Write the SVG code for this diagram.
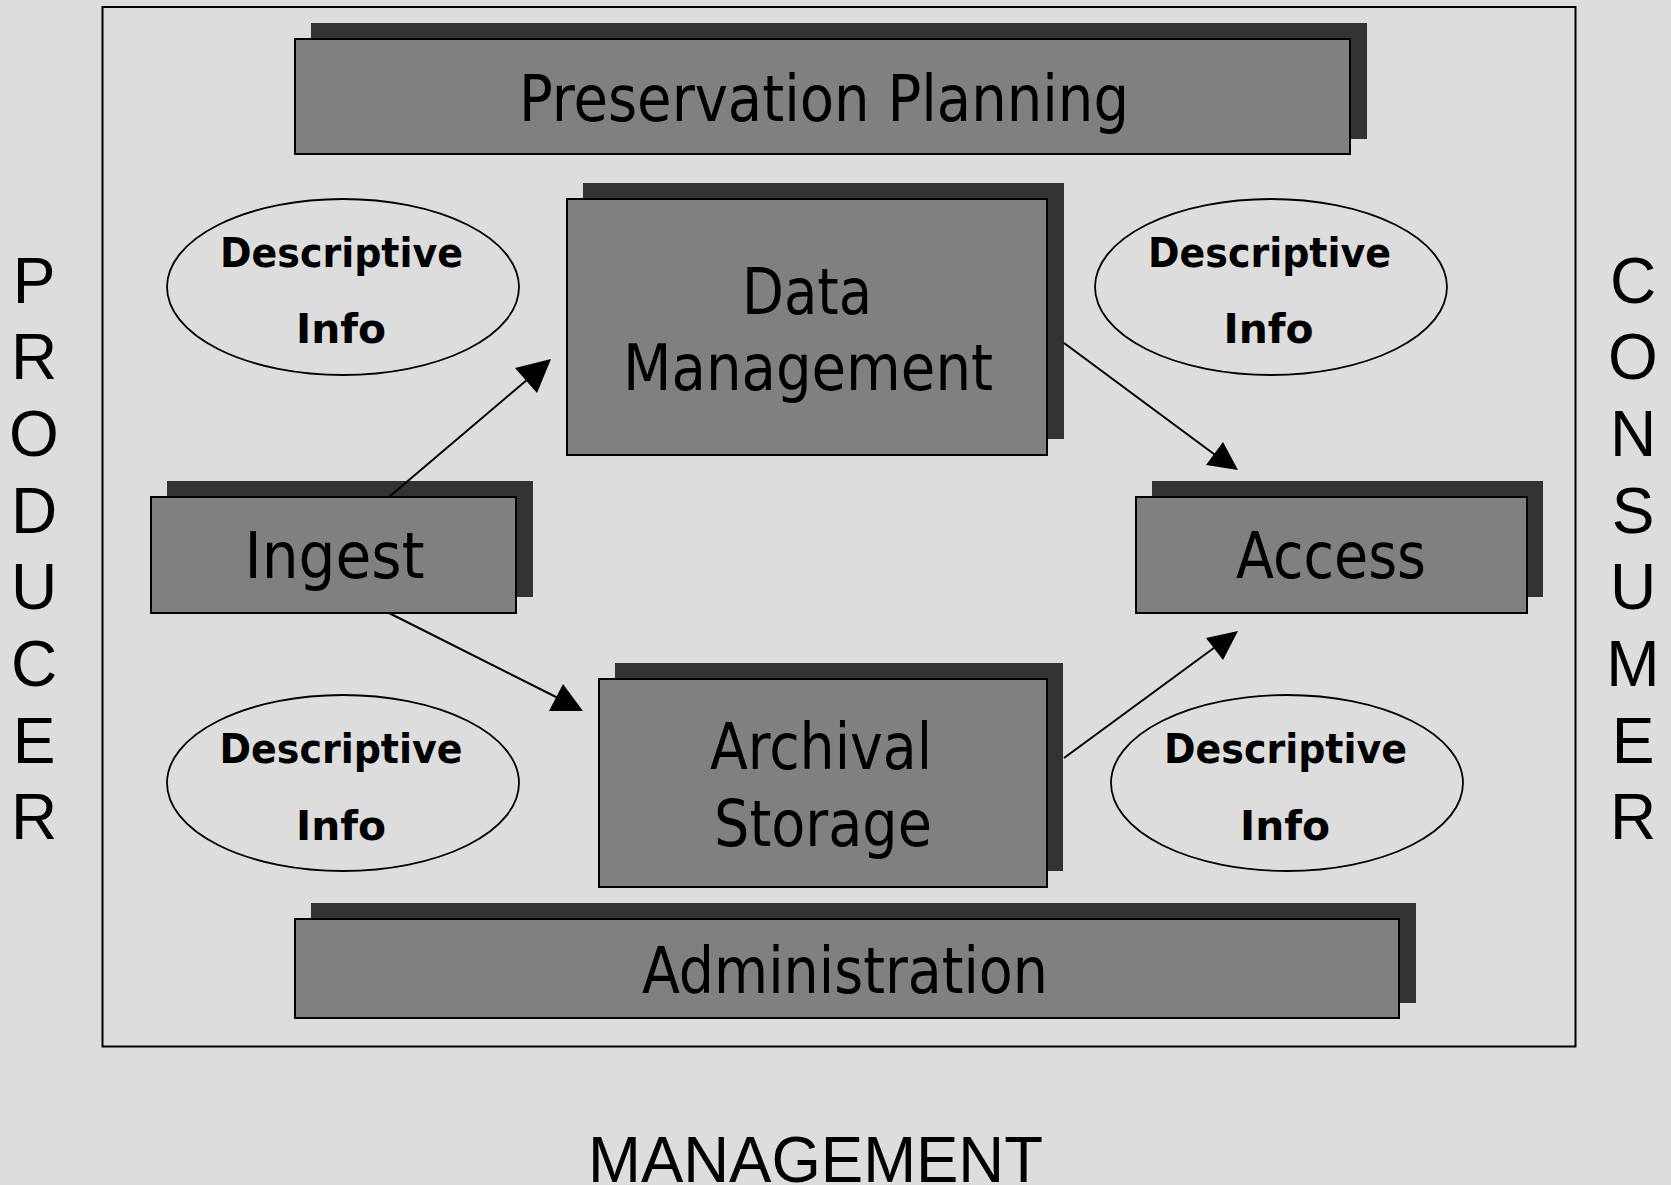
<svg xmlns="http://www.w3.org/2000/svg" width="1671" height="1185" viewBox="0 0 1671 1185">
<style>
.bg{fill:#dddddd}
.frame{fill:none;stroke:#000;stroke-width:2}
.shadow{fill:#333333}
.box{fill:#808080;stroke:#000;stroke-width:2}
.ell{fill:#dddddd;stroke:#000;stroke-width:1.8}
.lbl{font-family:"DejaVu Sans Condensed","DejaVu Sans",sans-serif;font-stretch:condensed;font-size:64px;fill:#000;text-anchor:middle}
.info{font-family:"DejaVu Sans Condensed","DejaVu Sans",sans-serif;font-stretch:condensed;font-weight:bold;font-size:41px;fill:#000;text-anchor:middle}
.side{font-family:"Liberation Sans",Arial,sans-serif;font-size:64px;fill:#000;text-anchor:middle}
.conn{stroke:#000;stroke-width:2;fill:none}
.head{fill:#000}
</style>
<rect class="bg" x="0" y="0" width="1671" height="1185"/>
<rect id="frame" class="frame" x="102.5" y="7" width="1473" height="1039.5"/>

<g id="producer">
<text class="side" x="34" y="302.7">P</text>
<text class="side" x="34" y="379.4">R</text>
<text class="side" x="34" y="456">O</text>
<text class="side" x="34" y="532.7">D</text>
<text class="side" x="34" y="609.3">U</text>
<text class="side" x="34" y="686">C</text>
<text class="side" x="34" y="762.6">E</text>
<text class="side" x="34" y="839.3">R</text>
</g>
<g id="consumer">
<text class="side" x="1633" y="302.7">C</text>
<text class="side" x="1633" y="379.4">O</text>
<text class="side" x="1633" y="456">N</text>
<text class="side" x="1633" y="532.7">S</text>
<text class="side" x="1633" y="609.3">U</text>
<text class="side" x="1633" y="686">M</text>
<text class="side" x="1633" y="762.6">E</text>
<text class="side" x="1633" y="839.3">R</text>
</g>
<g id="management">
<text class="side" x="815.5" y="1181.5" font-size="63" textLength="455" lengthAdjust="spacingAndGlyphs">MANAGEMENT</text>
</g>

<g id="preservation-planning">
<rect class="shadow" x="311" y="23" width="1056" height="116"/>
<rect class="box" x="295" y="39" width="1055" height="115"/>
<text class="lbl" x="824" y="121" textLength="610" lengthAdjust="spacingAndGlyphs">Preservation Planning</text>
</g>

<g id="data-management">
<rect class="shadow" x="583" y="183" width="481" height="256"/>
<rect class="box" x="567" y="199" width="480" height="256"/>
<text class="lbl" x="807" y="314" textLength="130" lengthAdjust="spacingAndGlyphs">Data</text>
<text class="lbl" x="808" y="390" textLength="370" lengthAdjust="spacingAndGlyphs">Management</text>
</g>

<g id="ingest">
<rect class="shadow" x="167" y="481" width="366" height="116"/>
<rect class="box" x="151" y="497" width="365" height="116"/>
<text class="lbl" x="334.5" y="578" textLength="180" lengthAdjust="spacingAndGlyphs">Ingest</text>
</g>

<g id="access">
<rect class="shadow" x="1152" y="481" width="391" height="116"/>
<rect class="box" x="1136" y="497" width="391" height="116"/>
<text class="lbl" x="1331" y="578" textLength="190" lengthAdjust="spacingAndGlyphs">Access</text>
</g>

<g id="archival-storage">
<rect class="shadow" x="615" y="663" width="448" height="208"/>
<rect class="box" x="599" y="679" width="448" height="208"/>
<text class="lbl" x="821" y="769" textLength="222" lengthAdjust="spacingAndGlyphs">Archival</text>
<text class="lbl" x="823" y="845.5" textLength="218" lengthAdjust="spacingAndGlyphs">Storage</text>
</g>

<g id="administration">
<rect class="shadow" x="311" y="903" width="1105" height="100"/>
<rect class="box" x="295" y="919" width="1104" height="99"/>
<text class="lbl" x="845" y="993" textLength="406" lengthAdjust="spacingAndGlyphs">Administration</text>
</g>

<g id="info-top-left">
<ellipse class="ell" cx="343" cy="287" rx="176" ry="88"/>
<text class="info" x="341.5" y="266.7" textLength="243" lengthAdjust="spacingAndGlyphs">Descriptive</text>
<text class="info" x="341" y="343.3" textLength="90" lengthAdjust="spacingAndGlyphs">Info</text>
</g>
<g id="info-top-right">
<ellipse class="ell" cx="1271" cy="287" rx="176" ry="88"/>
<text class="info" x="1269.5" y="266.7" textLength="243" lengthAdjust="spacingAndGlyphs">Descriptive</text>
<text class="info" x="1268.5" y="343.3" textLength="90" lengthAdjust="spacingAndGlyphs">Info</text>
</g>
<g id="info-bottom-left">
<ellipse class="ell" cx="343" cy="783" rx="176" ry="88"/>
<text class="info" x="341" y="762.7" textLength="243" lengthAdjust="spacingAndGlyphs">Descriptive</text>
<text class="info" x="341" y="840" textLength="90" lengthAdjust="spacingAndGlyphs">Info</text>
</g>
<g id="info-bottom-right">
<ellipse class="ell" cx="1287" cy="783" rx="176" ry="88"/>
<text class="info" x="1285.5" y="762.7" textLength="243" lengthAdjust="spacingAndGlyphs">Descriptive</text>
<text class="info" x="1285" y="839.5" textLength="90" lengthAdjust="spacingAndGlyphs">Info</text>
</g>

<g id="connectors">
<line class="conn" x1="389" y1="497" x2="528" y2="379"/>
<polygon class="head" points="551,359 515,368 537,393"/>
<line class="conn" x1="389" y1="613" x2="562" y2="700"/>
<polygon class="head" points="563,684 549,711 583,711"/>
<line class="conn" x1="1064" y1="343" x2="1222" y2="460"/>
<polygon class="head" points="1223,442 1206,465 1238,470"/>
<line class="conn" x1="1064" y1="758" x2="1222" y2="642"/>
<polygon class="head" points="1238,631 1206,638 1223,660"/>
</g>
</svg>
